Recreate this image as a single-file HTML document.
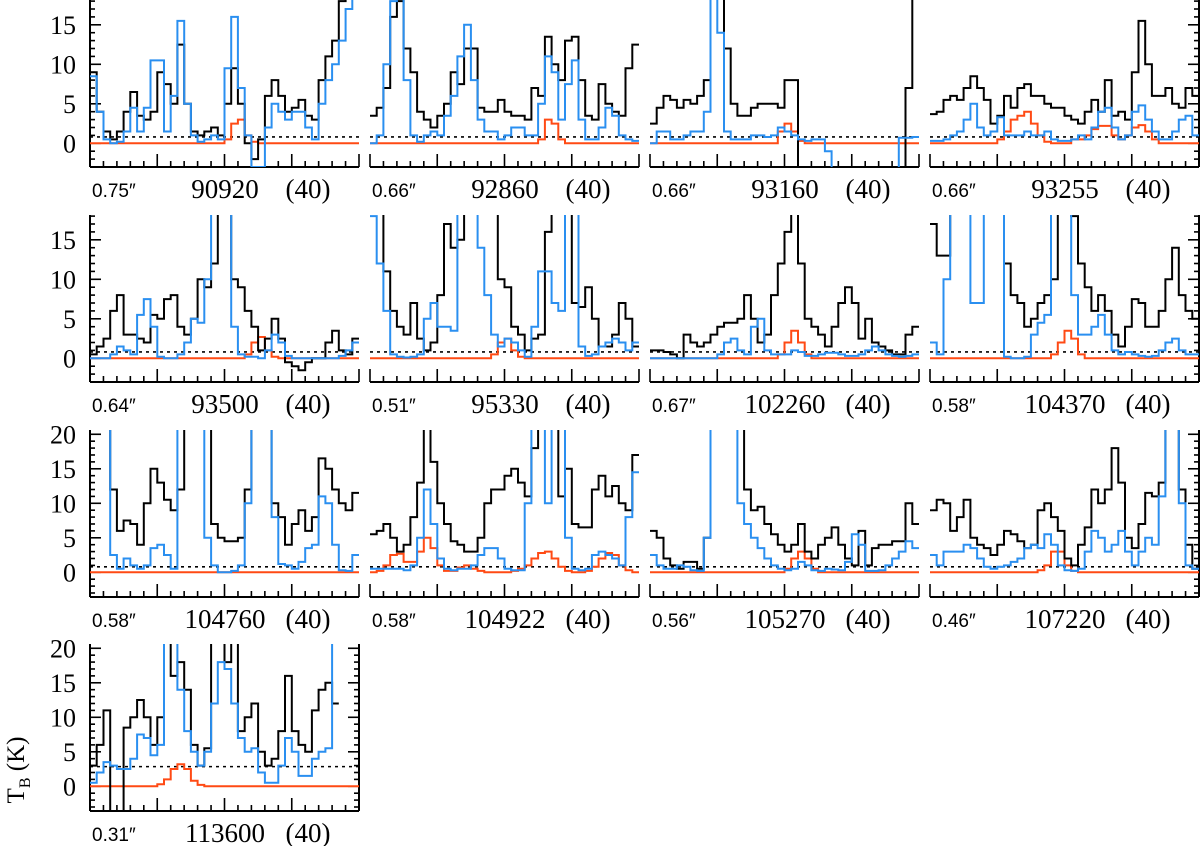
<!DOCTYPE html>
<html><head><meta charset="utf-8">
<style>
html,body{margin:0;padding:0;background:#fff;}
svg{display:block;}
text{font-family:"Liberation Serif",serif;fill:#000;}
</style></head>
<body>
<svg id="chart" width="1200" height="846" viewBox="0 0 1200 846" xmlns="http://www.w3.org/2000/svg"></svg>
<script>
// ---- data ----
const frequencies = ["90920","92860","93160","93255","93500","95330","102260","104370","104760","104922","105270","107220","113600"];
const resolutions = ["0.75\u2033","0.66\u2033","0.66\u2033","0.66\u2033","0.64\u2033","0.51\u2033","0.67\u2033","0.58\u2033","0.58\u2033","0.58\u2033","0.56\u2033","0.46\u2033","0.31\u2033"];
const dottedLevels = [0.8,0.8,0.8,0.8,0.8,0.8,0.8,0.8,0.8,0.8,0.8,0.8,2.85];
const yTicksTop = [0,5,10,15];
const yTicksBottom = [0,5,10,15,20];

const obs_90920 = [9,4,1.5,0.5,1.5,4,6.5,3.5,3,4,9,7.5,5,12.5,5,1.5,1,1.5,2,1,5,9.5,5,0,-2,0.5,6,8,6,4,4.5,5.5,3.5,3,8,11,13,18,20,20];
const mod_90920 = [8.5,4,0.5,0,0.2,1.5,4.5,1.5,4.5,10.5,10.5,1.5,6,15.5,5,1,0.2,0.5,1,0.5,9.5,16,7,1,-3,-3,2,5,4,3,4,4,2,0.5,5,8,10,13,17,20];
const fit_90920 = [0,0,0,0,0,0,0,0,0,0,0,0,0,0,0,0,0,0,0,0,0.5,2.5,3,1,0.2,0,0,0,0,0,0,0,0,0,0,0,0,0,0,0];

const obs_92860 = [3.5,4.5,7,16,18,12,9,4,3,2,3.5,5,9,7.5,12,12,4.5,4,4,5.5,4,3.5,3.5,3,7,6,13.5,10,8,13,13.5,8,3.5,3,7.5,5,4,3.5,9.5,12.5];
const mod_92860 = [0,1,10,18,20,8,1,0.2,1,1.5,1,3.5,6,11,15,8,3,1.5,1.5,0.5,1,2,2,1,1,5,11,9,3,7.5,10.5,3,0.5,0.5,2,4.5,3.5,1,0.5,0.3];
const fit_92860 = [0,0,0,0,0,0,0,0,0,0,0,0,0,0,0,0,0,0,0,0,0,0,0,0,0,0.5,3,2.5,0.5,0,0,0,0,0,0,0,0,0,0,0];

const obs_93160 = [2.5,4.5,6,5.5,4.5,5.5,5,6,8,20,20,12,5,3.5,3.5,4.5,5,5,5,4.5,8,8,-5,-5,-5,-5,-5,-5,-5,-5,-5,-5,-5,-5,-5,-5,-5,-5,7,20];
const mod_93160 = [0,1.5,1.5,0.5,0.5,1,1.5,1.5,4,20,14,1.5,0.5,0.5,0.5,1,1,0.8,1,2,1.5,1,0.5,0.3,0.5,0.5,-1,-5,-5,-5,-5,-5,-5,-5,-5,-5,-5,0.7,0.7,0.8];
const fit_93160 = [0,0,0,0,0,0,0,0,0,0,0,0,0,0,0,0,0,0,0,1.5,2.5,1.5,0.3,0,0,0,0,0,0,0,0,0,0,0,0,0,0,0,0,0];

const obs_93255 = [3.7,4,5.5,6,5.5,7,8.5,7,5.5,2.5,3.5,6,4.5,7,7.5,6,6,5,4.5,4.5,3.5,3,2.5,4,5.5,4,8,3.5,4,3,9,15.5,10,6,6,7,5,4.5,7,6];
const mod_93255 = [0.3,0.3,0.5,1,1.5,3,5,2,1,1.5,3.3,1,1,1,1.5,1,1,1.5,0.5,0.3,0.3,0.5,1,0.5,2,4,4.5,2,0.5,1,4,4.8,3,1.5,0.5,0.5,1.5,3,3.5,1];
const fit_93255 = [0,0,0,0,0,0,0,0,0,0,0.5,1.5,3,3.5,4,2.5,1,0.2,0,0,0,0.5,0.5,1,1.8,2.2,2.2,1,0.5,1,2,2.3,1.5,0.5,0,0,0,0,0,0];

const obs_93500 = [0.5,1.5,2.5,6,8,3,3,2.5,2,5.5,5,7.5,8,4,3,5,10,9,12,20,20,10,9,6,4,1,2.5,5,2.5,-0.5,-1,-1.5,-0.5,0,0,2,3.5,1,0.5,2.5];
const mod_93500 = [0,0,0,0.5,1.5,1,0.5,5.5,7.5,4,0.2,0,0,0.5,2,5,4.5,10,20,20,20,4,0.5,0.2,0.2,0,1,3,2,0.3,0,0,0,0,0,0,0,0.3,1,2];
const fit_93500 = [0,0,0,0,0,0,0,0,0,0,0,0,0,0,0,0,0,0,0,0,0,0,0,0.5,2,2.7,1,0.2,0,0,0,0,0,0,0,0,0,0,0,0];

const obs_95330 = [20,20,11,6,4,3,7,2.5,1,2,8,17,14,15,20,20,20,20,20,10,9,4,3,1,2.5,3,16,20,20,20,7,6.5,9,5,1.5,1.5,3,7,5,1.5];
const mod_95330 = [18,12,6,0.5,0.2,0.1,0.2,0.5,5,7,4,4,3.5,20,20,20,14,8,3,1.5,2.5,2,1,0.2,4,11,11,7,6,20,20,1.5,0.3,0.5,1.5,2,2.5,2,1,2];
const fit_95330 = [0,0,0,0,0,0,0,0,0,0,0,0,0,0,0,0,0,0,0.5,2,2.5,1,0.2,0,0,0,0,0,0,0,0,0,0,0,0,0,0,0,0,0];

const obs_102260 = [1,1,0.8,0.5,0,3,2,1.5,2,3,4,4.5,4.5,5,8,5,2,3,8,12,16,20,12,5,4,3,1.5,4,7,9,7,2.5,5,2,1.5,1,0.5,0.5,3,4];
const mod_102260 = [0,0,0,0,0,0,0,0,0,0,0.5,2,2.5,1,0.5,4,5,1,0.5,0.5,0.5,1,0.8,0.3,0.3,0.5,0.7,0.7,0.5,0.3,0.3,0.5,1,1.5,1,0.5,0.3,0.2,0.3,0.5];
const fit_102260 = [0,0,0,0,0,0,0,0,0,0,0,0,0,0,0,0,0,0,0,0.5,2,3.5,2,0.5,0,0,0,0,0,0,0,0,0,0,0,0,0,0,0,0];

const obs_104370 = [17,13,13,20,20,20,20,20,20,20,20,12,8,7,4,5,7,8,10,20,20,18,12,9,6,8,6,3,1.5,4,7.5,7,4,4,6,10,14,8,6,5];
const mod_104370 = [2,0.5,10,20,20,20,7,7,20,20,20,0.2,0,0,0.2,3,4.5,5.5,20,20,20,8,3,3,4,5.5,3,1,0.5,0.8,0.5,0.3,0.2,0.3,1,2,2.5,1,0.5,0.5];
const fit_104370 = [0,0,0,0,0,0,0,0,0,0,0,0,0,0,0,0,0,0,0.5,2,3.5,2.5,0.5,0,0,0,0,0,0,0,0,0,0,0,0,0,0,0,0,0];

const obs_104760 = [20,20,20,12,6,7.5,7,4,10,15,13,10.5,9,12,20,20,20,20,7,5,4.5,4.5,5,12,20,20,20,10,8,4,7,9,6,8,16.5,15,12,10,9,11.5];
const mod_104760 = [20,20,20,2.5,0.5,2,1,0.5,1,3.5,4,2.5,0.5,20,20,20,20,5,1,0,0,0.2,1,10,20,20,20,8,1.2,1,0.5,1.5,3.5,4,11,10,4,0.3,0.2,2.5];
const fit_104760 = [0,0,0,0,0,0,0,0,0,0,0,0,0,0,0,0,0,0,0,0,0,0,0,0,0,0,0,0,0,0,0,0,0,0,0,0,0,0,0,0];

const obs_104922 = [5.5,6,7,5,3,4,8,13,20,16,10,7,4.5,4,3,3,5,10,12,12,14,15,13,11,18,20,20,20,11,15,7,6.5,6.5,12,14,11,12.5,10,9,17];
const mod_104922 = [0.5,0.5,0.5,0.5,0.5,0.3,1,5,12,7,2,0.5,0.3,0.5,0.5,1,2.5,3.5,3.5,2,0.5,0.3,0.3,10,20,20,10,20,20,5,0.5,0.3,0.5,2.5,3,2.5,2,1,8,14.5];
const fit_104922 = [0,0.2,1,2.5,2.7,1.5,1.5,3,5,3.5,1,0.2,0.2,0.7,1,0.5,0.2,0,0,0,0,0.2,0.5,1,2,2.8,3,2,0.8,0.2,0,0,0.2,0.8,2,2.8,2.5,1,0.3,0];

const obs_105270 = [6,5,2,1,0.5,1.5,1.5,0.5,5,20,20,20,20,20,12,9,9.5,7,5.5,4,3,4,7,3,2,4,5,6.5,4,2,1,6,1,3.5,4,4,4.5,4.5,10,7];
const mod_105270 = [2.5,1,0.5,0.5,1,0.8,0.3,0.2,5,20,20,20,20,10,7,5,3.5,2,1,0.5,0.3,0.5,1.5,1,0.3,0.2,0.5,0.4,0.3,1.5,5.5,4,0.2,0.2,0.3,1,2,3,4.5,3.5];
const fit_105270 = [0,0,0,0,0,0,0,0,0,0,0,0,0,0,0,0,0,0,0,0,0.5,2,3,2,0.5,0,0,0,0,0,0,0,0,0,0,0,0,0,0,0];

const obs_107220 = [9,10.5,10,6,8,10.5,5,4,3.5,2.5,4,6,5.5,4.5,3.5,4,9,10,8,6,2,1,4,6.5,12,10,12,18,13,5,3.5,7,11.5,11,13,20,20,12,4,0.5];
const mod_107220 = [2.5,1,3,3,3,4,3.5,2,0.8,0.5,0.8,1,1.5,2,3.5,4,3.5,5.5,4,1,0.3,0.2,0.5,3,6,5,3,4,6,3,1,3,5,4,11,20,20,10,1,0.5];
const fit_107220 = [0,0,0,0,0,0,0,0,0,0,0,0,0,0,0,0,0.3,1,3,3,1,0.2,0,0,0,0,0,0,0,0,0,0,0,0,0,0,0,0,0,0];

const obs_113600 = [3,6,11,-5,-5,8.5,10,12.5,10,6,10,20,16,18,14,6,3,5.5,20,20,18,20,8,10,12,5,3,4,8,16,8,6,5,11,14,15,12,null,null,null];
const mod_113600 = [0.5,2,3.5,3,2.5,2.5,4,7.5,7,4.5,6,20,20,14,8,5,3,5,12,18,17,12,7,5,5.5,2,0.5,0.5,3,7,5,1.5,1.5,4,5,5.5,20,null,null,null];
const fit_113600 = [0,0,0,0,0,0,0,0,0,0,0.3,1,2.5,3.2,2.5,0.8,0.2,0,0,0,0,0,0,0,0,0,0,0,0,0,0,0,0,0,0,0,0,0,0,0];

const observed = [obs_90920,obs_92860,obs_93160,obs_93255,obs_93500,obs_95330,obs_102260,obs_104370,obs_104760,obs_104922,obs_105270,obs_107220,obs_113600];
const modelAll = [mod_90920,mod_92860,mod_93160,mod_93255,mod_93500,mod_95330,mod_102260,mod_104370,mod_104760,mod_104922,mod_105270,mod_107220,mod_113600];
const modelMol = [fit_90920,fit_92860,fit_93160,fit_93255,fit_93500,fit_95330,fit_102260,fit_104370,fit_104760,fit_104922,fit_105270,fit_107220,fit_113600];

// ---- layout ----
const NS = "http://www.w3.org/2000/svg";
const svg = document.getElementById('chart');
const colX = [90,370,650,930];
const rowTop = [0,215,430,644];
const PW = 269, PH = 167;
function mk(tag, attrs, parent){
  const e = document.createElementNS(NS, tag);
  for (const k in attrs) e.setAttribute(k, attrs[k]);
  (parent||svg).appendChild(e);
  return e;
}

frequencies.forEach(function(freq, p){
  const r = Math.floor(p/4), c = p%4;
  const x0 = colX[c], y0 = rowTop[r];
  const big = r >= 2;
  const ymin = big ? -3.58 : -3.0;
  const ymax = big ? 20.62 : 18.14;
  const n = observed[p].length;
  const xs = function(i){ return x0 + PW * i / n; };
  const ys = function(v){ return y0 + PH * (ymax - v) / (ymax - ymin); };
  // saturated channels (>=20 K) are drawn as off-scale
  const yv = function(v){ return v >= 20 ? ys(ymax + 4) : ys(v); };

  const g = mk('g', {});
  
  

  const cp = mk('clipPath', {id: 'clip' + p}, g);
  mk('rect', {x: x0, y: y0, width: PW, height: PH}, cp);

  const ax = mk('g', {stroke: '#000', 'stroke-width': 2, fill: 'none'}, g);
  
  
  mk('line', {x1: x0, y1: y0 + PH, x2: x0 + PW, y2: y0 + PH}, ax);
  for (let k = 0; k <= 20; k++) {
    const tx = x0 + PW * k / 20;
    const len = (k % 5 === 0) ? 13 : 6;
    mk('line', {x1: tx, y1: y0 + PH, x2: tx, y2: y0 + PH - len, 'stroke-width': 1.6}, ax);
  }
  const lastInRow = (c === 3) || (p === frequencies.length - 1);
  const sides = [];
  if (c === 0) sides.push(0);
  if (lastInRow) sides.push(1);
  sides.forEach(function(s){
    const sx = s === 0 ? x0 : x0 + PW;
    const dir = s === 0 ? 1 : -1;
    mk('line', {x1: sx, y1: y0, x2: sx, y2: y0 + PH}, ax);
    for (let v = Math.ceil(ymin); v <= Math.floor(ymax); v++) {
      const len = (v % 5 === 0) ? 11 : 5;
      mk('line', {x1: sx, y1: ys(v), x2: sx + dir * len, y2: ys(v), 'stroke-width': 1.6}, ax);
    }
  });
  if (c === 0) {
    const ticks = big ? yTicksBottom : yTicksTop;
    ticks.forEach(function(v){
      const t = mk('text', {x: 76, y: ys(v) + 9, 'text-anchor': 'end', 'font-size': 26});
      t.textContent = v;
      
      
    });
  }

  const dl = mk('line', {x1: x0, x2: x0 + PW, y1: ys(dottedLevels[p]), y2: ys(dottedLevels[p]), stroke: '#000', 'stroke-width': 1.6, 'stroke-dasharray': '3,4'}, g);
  
  

  function stepPath(arr){
    let d = '', open = false;
    for (let i = 0; i < arr.length; i++) {
      const v = arr[i];
      if (v === null) { open = false; continue; }
      const y = yv(v).toFixed(1);
      if (!open) { d += 'M' + xs(i).toFixed(1) + ',' + y; open = true; }
      else d += 'V' + y;
      d += 'H' + xs(i + 1).toFixed(1);
    }
    return d;
  }
  const series = [[modelMol[p], '#ff4a14', 'model-molecule-spectrum'], [observed[p], '#000', 'observed-spectrum'], [modelAll[p], '#2a8ff0', 'model-total-spectrum']];
  series.forEach(function(s){
    const path = mk('path', {d: stepPath(s[0]), fill: 'none', stroke: s[1], 'stroke-width': 2, 'clip-path': 'url(#clip' + p + ')'}, g);
    
    
  });

  const ly = y0 + PH + 31;
  const t1 = mk('text', {x: x0 + 2, y: ly - 1, 'font-size': 19, style: 'font-family:"Liberation Sans",sans-serif'}, g);
  t1.textContent = resolutions[p];
  
  
  const t2 = mk('text', {x: x0 + 135, y: ly, 'font-size': 27, 'text-anchor': 'middle'}, g);
  t2.textContent = freq;
  
  
  const t3 = mk('text', {x: x0 + 218, y: ly, 'font-size': 27, 'text-anchor': 'middle'}, g);
  t3.textContent = '(40)';
  
  
});

const yt = mk('text', {transform: 'translate(24,770) rotate(-90)', 'text-anchor': 'middle', 'font-size': 25});


yt.innerHTML = 'T<tspan font-size="16" dy="6">B</tspan><tspan dy="-6"> (K)</tspan>';
</script>
</body></html>
